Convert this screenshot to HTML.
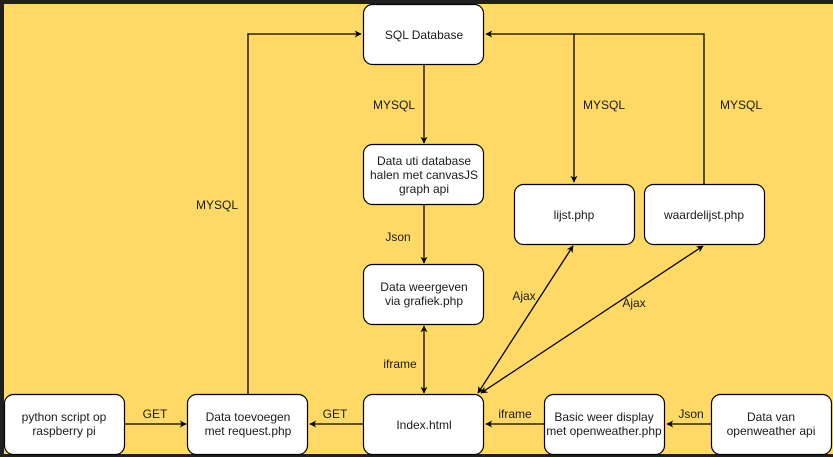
<!DOCTYPE html>
<html><head><meta charset="utf-8"><style>
html,body{margin:0;padding:0;background:#202020;}
svg{display:block;}
text{font-family:"Liberation Sans",Arial,sans-serif;font-size:12px;fill:#1a1a1a;}
</style></head><body>
<svg width="833" height="457" viewBox="0 0 833 457" xmlns="http://www.w3.org/2000/svg">
<defs>
<marker id="a" viewBox="0 0 10 10" refX="9" refY="5" markerWidth="7" markerHeight="7" orient="auto-start-reverse" markerUnits="userSpaceOnUse"><path d="M0,0 L10,5 L0,10 L3,5 Z" fill="#000"/></marker>
</defs>
<rect x="0" y="0" width="833" height="457" fill="#202020"/>
<rect x="4" y="4" width="829" height="450" fill="#FFD966"/>
<g fill="none" stroke="#000" stroke-width="1.3">
<line x1="424" y1="64" x2="424" y2="143" marker-end="url(#a)"/>
<line x1="424" y1="204" x2="424" y2="263" marker-end="url(#a)"/>
<line x1="424" y1="326" x2="424" y2="393" marker-start="url(#a)" marker-end="url(#a)"/>
<line x1="363" y1="424" x2="310" y2="424" marker-end="url(#a)"/>
<line x1="125" y1="424" x2="186" y2="424" marker-end="url(#a)"/>
<polyline points="248,394 248,34 361,34" marker-end="url(#a)"/>
<polyline points="486,34 574,34 574,182" marker-start="url(#a)" marker-end="url(#a)"/>
<polyline points="704,184 704,34 574,34"/>
<line x1="478" y1="393" x2="573" y2="246" marker-start="url(#a)" marker-end="url(#a)"/>
<line x1="481" y1="393" x2="703" y2="246" marker-start="url(#a)" marker-end="url(#a)"/>
<line x1="544" y1="424" x2="486" y2="424" marker-end="url(#a)"/>
<line x1="711" y1="424" x2="667" y2="424" marker-end="url(#a)"/>
</g>
<g fill="#fff" stroke="#000" stroke-width="1.2">
<rect x="363.5" y="4.5" width="120" height="60" rx="9"/>
<rect x="363.5" y="144.5" width="120" height="60" rx="9"/>
<rect x="363.5" y="264.5" width="120" height="60" rx="9"/>
<rect x="514.5" y="184.5" width="120" height="60" rx="9"/>
<rect x="644.5" y="184.5" width="120" height="60" rx="9"/>
<rect x="4.5" y="394.5" width="120" height="60" rx="9"/>
<rect x="187.5" y="394.5" width="120" height="60" rx="9"/>
<rect x="363.5" y="394.5" width="120" height="60" rx="9"/>
<rect x="544.5" y="394.5" width="120" height="60" rx="9"/>
<rect x="711.5" y="394.5" width="120" height="60" rx="9"/>
</g>
<g text-anchor="middle">
<text x="424" y="39">SQL Database</text>
<text x="424" y="165">Data uti database</text>
<text x="424" y="179">halen met canvasJS</text>
<text x="424" y="193">graph api</text>
<text x="424" y="291">Data weergeven</text>
<text x="424" y="305">via grafiek.php</text>
<text x="574" y="219">lijst.php</text>
<text x="704" y="219">waardelijst.php</text>
<text x="64" y="421">python script op</text>
<text x="64" y="435">raspberry pi</text>
<text x="248" y="421">Data toevoegen</text>
<text x="248" y="435">met request.php</text>
<text x="424" y="429">Index.html</text>
<text x="604" y="421">Basic weer display</text>
<text x="604" y="435">met openweather.php</text>
<text x="771" y="421">Data van</text>
<text x="771" y="435">openweather api</text>
<text x="394" y="109">MYSQL</text>
<text x="604" y="109">MYSQL</text>
<text x="741" y="109">MYSQL</text>
<text x="217" y="209">MYSQL</text>
<text x="398" y="241">Json</text>
<text x="400" y="368">iframe</text>
<text x="335" y="418">GET</text>
<text x="155" y="418">GET</text>
<text x="515" y="418">iframe</text>
<text x="691" y="418">Json</text>
<text x="524" y="300">Ajax</text>
<text x="634" y="307">Ajax</text>
</g>
</svg>
</body></html>
